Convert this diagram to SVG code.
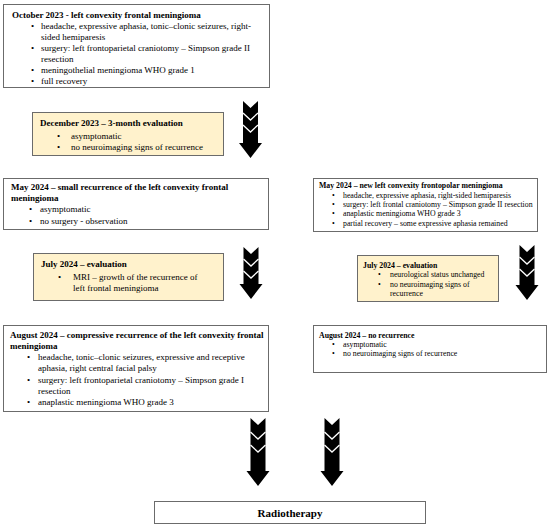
<svg xmlns="http://www.w3.org/2000/svg" width="550" height="528" viewBox="0 0 550 528">
<style>
text{font-family:"Liberation Serif","DejaVu Serif",serif;fill:#000}
.t{font-size:9px}
.s{font-size:7.8px}
.b{font-weight:bold}
.box{fill:#fff;stroke:#6b6b6b;stroke-width:1}
.ybox{fill:#fff2cc;stroke:#6b6b6b;stroke-width:1}
.arr{fill:#000}
.chev{fill:none;stroke:#fff;stroke-width:1.3}
</style>
<rect width="550" height="528" fill="#fff"/>

<g id="oct2023">
<rect class="box" x="3.5" y="4.5" width="266" height="83"/>
<text class="t b" x="12" y="18">October 2023 - left convexity frontal meningioma</text>
<text class="t" x="31" y="29">•</text><text class="t" x="41" y="29">headache, expressive aphasia, tonic–clonic seizures, right-</text>
<text class="t" x="41" y="40">sided hemiparesis</text>
<text class="t" x="31" y="51">•</text><text class="t" x="41" y="51">surgery: left frontoparietal craniotomy – Simpson grade II</text>
<text class="t" x="41" y="62">resection</text>
<text class="t" x="31" y="73">•</text><text class="t" x="41" y="73">meningothelial meningioma WHO grade 1</text>
<text class="t" x="31" y="84">•</text><text class="t" x="41" y="84">full recovery</text>
</g>

<g id="dec2023">
<rect class="ybox" x="32.5" y="112.5" width="191" height="43"/>
<text class="t b" x="40" y="126">December 2023 – 3-month evaluation</text>
<text class="t" x="57" y="139">•</text><text class="t" x="71" y="139">asymptomatic</text>
<text class="t" x="57" y="150">•</text><text class="t" x="71" y="150">no neuroimaging signs of recurrence</text>
</g>

<g id="may2024left">
<rect class="box" x="3.5" y="178.5" width="265" height="51"/>
<text class="t b" x="11" y="190">May 2024 – small recurrence of the left convexity frontal</text>
<text class="t b" x="11" y="201">meningioma</text>
<text class="t" x="29" y="212">•</text><text class="t" x="40" y="212">asymptomatic</text>
<text class="t" x="29" y="224">•</text><text class="t" x="40" y="224">no surgery - observation</text>
</g>

<g id="jul2024left">
<rect class="ybox" x="33.5" y="253.5" width="190" height="47"/>
<text class="t b" x="41" y="267">July 2024 – evaluation</text>
<text class="t" x="58" y="280">•</text><text class="t" x="73" y="280">MRI – growth of the recurrence of</text>
<text class="t" x="73" y="291">left frontal meningioma</text>
</g>

<g id="aug2024left">
<rect class="box" x="3.5" y="325.5" width="265" height="86"/>
<text class="t b" x="10" y="338">August 2024 – compressive recurrence of the left convexity frontal</text>
<text class="t b" x="10" y="349">meningioma</text>
<text class="t" x="27" y="360">•</text><text class="t" x="38" y="360">headache, tonic–clonic seizures, expressive and receptive</text>
<text class="t" x="38" y="371">aphasia, right central facial palsy</text>
<text class="t" x="27" y="383">•</text><text class="t" x="38" y="383">surgery: left frontoparietal craniotomy – Simpson grade I</text>
<text class="t" x="38" y="394">resection</text>
<text class="t" x="27" y="405">•</text><text class="t" x="38" y="405">anaplastic meningioma WHO grade 3</text>
</g>

<g id="may2024right">
<rect class="box" x="313.5" y="178.5" width="224" height="53"/>
<text class="s b" x="319" y="188">May 2024 – new left convexity frontopolar meningioma</text>
<text class="s" x="332" y="198">•</text><text class="s" x="343" y="198">headache, expressive aphasia, right-sided hemiparesis</text>
<text class="s" x="332" y="207">•</text><text class="s" x="343" y="207">surgery: left frontal craniotomy – Simpson grade II resection</text>
<text class="s" x="332" y="216">•</text><text class="s" x="343" y="216">anaplastic meningioma WHO grade 3</text>
<text class="s" x="332" y="226">•</text><text class="s" x="343" y="226">partial recovery – some expressive aphasia remained</text>
</g>

<g id="jul2024right">
<rect class="ybox" x="357.5" y="255.5" width="141" height="46"/>
<text class="s b" x="363" y="268">July 2024 –  evaluation</text>
<text class="s" x="378" y="277">•</text><text class="s" x="390" y="277">neurological status unchanged</text>
<text class="s" x="378" y="287">•</text><text class="s" x="390" y="287">no neuroimaging signs of</text>
<text class="s" x="390" y="296">recurrence</text>
</g>

<g id="aug2024right">
<rect class="box" x="313.5" y="325.5" width="233" height="47"/>
<text class="s b" x="319" y="338">August 2024 – no recurrence</text>
<text class="s" x="332" y="347">•</text><text class="s" x="343" y="347">asymptomatic</text>
<text class="s" x="332" y="356">•</text><text class="s" x="343" y="356">no neuroimaging signs of recurrence</text>
</g>

<g id="radiotherapy">
<rect class="box" x="154.5" y="501.5" width="271" height="22"/>
<text class="b" x="290" y="516.5" font-size="11" text-anchor="middle">Radiotherapy</text>
</g>

<g id="connectors">
<g transform="translate(250.5,101)">
<path class="arr" d="M-7.5,0 L0,7 L7.5,0 L7.5,42 L11.5,42 L0,57 L-11.5,42 L-7.5,42 Z"/>
<polyline class="chev" points="-7.5,12 0,19 7.5,12"/>
<polyline class="chev" points="-7.5,24 0,31 7.5,24"/>
</g>
<g transform="translate(251,247)">
<path class="arr" d="M-7.5,0 L0,7 L7.5,0 L7.5,37 L11.5,37 L0,52 L-11.5,37 L-7.5,37 Z"/>
<polyline class="chev" points="-7.5,12 0,19 7.5,12"/>
<polyline class="chev" points="-7.5,24 0,31 7.5,24"/>
</g>
<g transform="translate(527,245)">
<path class="arr" d="M-7.5,0 L0,7 L7.5,0 L7.5,40 L11.5,40 L0,55 L-11.5,40 L-7.5,40 Z"/>
<polyline class="chev" points="-7.5,12 0,19 7.5,12"/>
<polyline class="chev" points="-7.5,24 0,31 7.5,24"/>
</g>
<g transform="translate(258,418)">
<path class="arr" d="M-7.5,0 L0,7 L7.5,0 L7.5,53 L11.5,53 L0,68 L-11.5,53 L-7.5,53 Z"/>
<polyline class="chev" points="-7.5,14 0,21 7.5,14"/>
<polyline class="chev" points="-7.5,27 0,34 7.5,27"/>
</g>
<g transform="translate(332,418)">
<path class="arr" d="M-7.5,0 L0,7 L7.5,0 L7.5,53 L11.5,53 L0,68 L-11.5,53 L-7.5,53 Z"/>
<polyline class="chev" points="-7.5,14 0,21 7.5,14"/>
<polyline class="chev" points="-7.5,27 0,34 7.5,27"/>
</g>
</g>
</svg>
